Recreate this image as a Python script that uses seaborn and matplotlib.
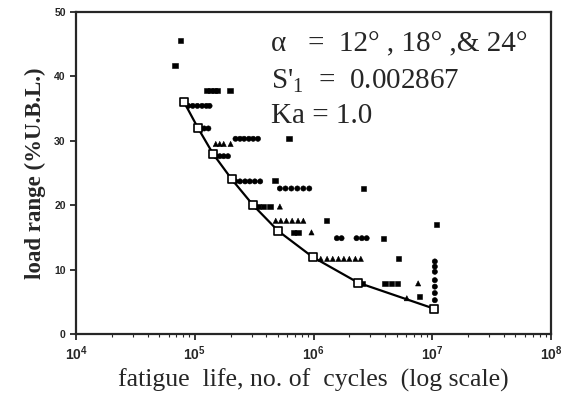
import matplotlib
matplotlib.use("Agg")
import matplotlib.pyplot as plt
import pandas as pd
import seaborn as sns

# S-N curve (open squares joined by a line)
curve_life = [8.1e4, 1.06e5, 1.42e5, 2.05e5, 3.1e5, 5.05e5, 9.8e5, 2.38e6, 1.03e7]
curve_load = [36, 32, 28, 24, 20, 16, 12, 8, 4]

# test points
sq_life = [7.6e4, 6.8e4, 1.98e5, 6.2e5, 4.74e5, 2.63e6, 1.29e6, 5.17e6, 3.87e6, 1.09e7,
           7.8e6, 6.8e5, 7.4e5, 1.26e5, 1.36e5, 1.46e5, 1.55e5, 3.4e5, 3.8e5, 4.3e5,
           4.0e6, 4.5e6, 5.1e6, 2.6e6]
sq_load = [45.5, 41.7, 37.8, 30.4, 23.8, 22.6, 17.6, 11.8, 14.9, 17.0,
           5.85, 15.8, 15.8, 37.8, 37.8, 37.8, 37.8, 19.8, 19.8, 19.8,
           7.9, 7.9, 7.9, 7.9]

ci_life = [8.8e4, 9.6e4, 1.05e5, 1.15e5, 1.25e5, 1.33e5, 1.12e5, 1.2e5, 1.3e5,
           2.2e5, 2.4e5, 2.6e5, 2.85e5, 3.1e5, 3.4e5, 1.5e5, 1.62e5, 1.75e5, 1.9e5,
           2.2e5, 2.4e5, 2.65e5, 2.9e5, 3.2e5, 3.55e5,
           5.2e5, 5.8e5, 6.5e5, 7.3e5, 8.2e5, 9.2e5,
           1.57e6, 1.72e6, 2.3e6, 2.55e6, 2.8e6,
           1.05e7, 1.05e7, 1.05e7, 1.05e7, 1.05e7, 1.05e7, 1.05e7]
ci_load = [35.4, 35.4, 35.4, 35.4, 35.4, 35.4, 31.9, 31.9, 31.9,
           30.3, 30.3, 30.3, 30.3, 30.3, 30.3, 27.6, 27.6, 27.6, 27.6,
           23.7, 23.7, 23.7, 23.7, 23.7, 23.7,
           22.6, 22.6, 22.6, 22.6, 22.6, 22.6,
           14.9, 14.9, 14.9, 14.9, 14.9,
           11.3, 10.5, 9.7, 8.4, 7.4, 6.4, 5.3]

tr_life = [1.5e5, 1.62e5, 1.75e5, 2.0e5, 5.2e5,
           4.8e5, 5.3e5, 5.9e5, 6.6e5, 7.4e5, 8.2e5, 9.6e5,
           1.15e6, 1.3e6, 1.45e6, 1.62e6, 1.8e6, 2.0e6, 2.25e6, 2.5e6,
           7.6e6, 6.1e6]
tr_load = [29.5, 29.5, 29.5, 29.5, 19.8,
           17.6, 17.6, 17.6, 17.6, 17.6, 17.6, 15.8,
           11.7, 11.7, 11.7, 11.7, 11.7, 11.7, 11.7, 11.7,
           7.9, 5.6]

pts = pd.DataFrame({
    "life": sq_life + ci_life + tr_life,
    "load": sq_load + ci_load + tr_load,
    "kind": ["sq"] * len(sq_life) + ["ci"] * len(ci_life) + ["tr"] * len(tr_life),
})
curve = pd.DataFrame({"life": curve_life, "load": curve_load})

sns.set_style("ticks")
plt.rcParams["font.family"] = ["Liberation Serif", "DejaVu Serif"]
plt.rcParams["mathtext.fontset"] = "custom"
plt.rcParams["mathtext.rm"] = "Liberation Serif"
plt.rcParams["mathtext.bf"] = "Liberation Sans:bold"

fig, ax = plt.subplots(figsize=(5.64, 4.0), dpi=100)
fig.subplots_adjust(left=0.135, right=0.977, top=0.971, bottom=0.164)

sns.lineplot(data=curve, x="life", y="load", color="black", lw=1.6, ax=ax)
sns.scatterplot(data=pts, x="life", y="load", style="kind",
                markers={"sq": "s", "ci": "o", "tr": "^"}, color="black",
                s=14, edgecolor="black", linewidth=0.4, legend=False, ax=ax)
sns.scatterplot(data=curve, x="life", y="load", marker="s", s=30,
                facecolor="white", edgecolor="black", linewidth=1.2, zorder=5, ax=ax)

ax.set_xscale("log")
ax.set_xlim(1e4, 1e8)
ax.set_ylim(0, 50)
ax.set_xticks([1e4, 1e5, 1e6, 1e7, 1e8])
ax.set_xticklabels([r"$\mathbf{10^{4}}$", r"$\mathbf{10^{5}}$", r"$\mathbf{10^{6}}$",
                    r"$\mathbf{10^{7}}$", r"$\mathbf{10^{8}}$"])
ax.set_yticks([0, 10, 20, 30, 40, 50])
ax.set_yticklabels(["0", "10", "20", "30", "40", "50"],
                   fontfamily="Liberation Sans", fontweight="bold")
ax.tick_params(axis="y", labelsize=7.5, width=1.3, length=4, direction="out")
ax.tick_params(axis="x", labelsize=10, width=1.3, length=4, direction="out")
ax.tick_params(axis="x", which="minor", length=2, width=0.8)
for sp in ax.spines.values():
    sp.set_linewidth(1.6)

ax.set_xlabel("fatigue  life, no. of  cycles  (log scale)", fontsize=18.5, labelpad=4)
ax.set_ylabel("load range (%U.B.L.)", fontsize=16.5, fontweight="bold", labelpad=6)

ax.text(0.41, 0.90, "α   =  12° , 18° ,& 24°", transform=ax.transAxes,
        fontsize=21, va="center", ha="left")
ax.text(0.41, 0.785, r"S$'_{\mathrm{1}}$  =  0.002867", transform=ax.transAxes,
        fontsize=21, va="center", ha="left")
ax.text(0.41, 0.676, "Ka = 1.0", transform=ax.transAxes,
        fontsize=21, va="center", ha="left")

fig.savefig("out.png", dpi=100)
